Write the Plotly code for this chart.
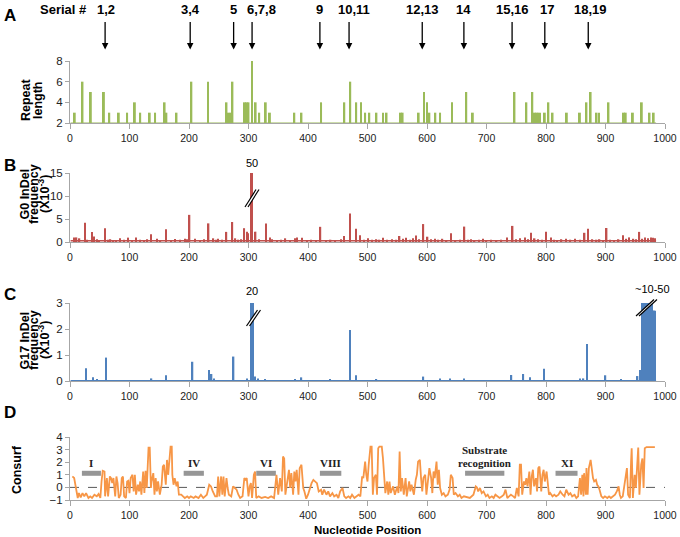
import plotly.graph_objects as go

W, H = 680, 537


def px(x):
    return x / W


def py(y):
    return 1 - y / H


# ---- A: repeat length ----
rep_pos = [8, 21, 35, 57, 66, 82, 96, 109, 118, 134, 143, 159, 162, 179, 204, 232,
           263, 266, 269, 273, 294, 297, 300, 306, 312, 318, 329, 336, 377, 389, 422,
           461, 471, 481, 489, 496, 503, 515, 526, 532, 556, 559, 586, 595, 600, 604,
           614, 622, 642, 666, 677, 747, 767, 777, 781, 784, 787, 790, 798, 804, 811,
           835, 857, 868, 875, 885, 889, 905, 931, 934, 946, 961, 974, 981]
rep_len = [3, 6, 5, 5, 3, 3, 3, 4, 3, 3, 3, 4, 3, 3, 6, 6,
           4, 3, 3, 6, 4, 4, 4, 8, 4, 3, 4, 3, 3, 3, 4,
           4, 6, 4, 4, 3, 3, 3, 3, 3, 3, 3, 3, 5, 4, 3,
           3, 3, 4, 5, 3, 5, 4, 5, 3, 3, 3, 3, 3, 4, 3,
           3, 3, 4, 5, 3, 3, 4, 3, 3, 3, 4, 3, 3]

serial_labels = ['1,2', '3,4', '5', '6,7,8', '9', '10,11', '12,13', '14', '15,16', '17', '18,19']
serial_pos = [59, 202, 275, 306, 420, 469, 592, 662, 743, 798, 871]

# ---- B: G0 InDel frequency (x10^-3) ----
g0_pos = [7, 11, 16, 25, 29, 37, 40, 45, 49, 59, 64, 68, 73, 77, 84, 91, 98, 104, 111, 118,
          124, 130, 136, 146, 152, 161, 170, 176, 185, 193, 197, 201, 210, 218, 225, 233, 241,
          245, 249, 256, 263, 273, 278, 283, 288, 293, 297, 299, 304, 306, 312, 318, 329, 336,
          340, 348, 355, 362, 370, 378, 382, 390, 398, 405, 413, 421, 430, 438, 446, 455, 461,
          471, 481, 487, 494, 501, 508, 515, 520, 526, 533, 541, 548, 554, 560, 565, 571, 576,
          582, 587, 594, 601, 607, 613, 619, 626, 633, 640, 648, 656, 663, 669, 674, 680, 687,
          694, 700, 708, 717, 725, 734, 744, 750, 756, 765, 770, 775, 781, 787, 793, 800, 808,
          813, 819, 826, 834, 841, 849, 857, 865, 871, 878, 885, 890, 896, 902, 908, 914, 922,
          929, 935, 940, 947, 951, 957, 962, 966, 971, 976, 980, 983]
g0_val = [1.0, 1.0, 0.8, 4.2, 0.5, 2.2, 1.2, 0.6, 0.4, 3.0, 0.5, 0.6, 0.4, 0.4, 0.8, 0.5, 0.95, 0.4, 1.0, 0.5,
          0.4, 0.6, 1.67, 0.7, 0.4, 2.75, 0.4, 0.65, 0.5, 0.7, 0.6, 5.9, 0.7, 0.4, 0.6, 4.05, 0.8,
          0.5, 0.7, 0.5, 2.2, 4.35, 0.8, 0.5, 0.6, 3.0, 2.25, 1.9, 15, 15, 2.25, 0.6, 4.0, 1.0,
          0.6, 0.4, 0.5, 0.8, 0.4, 0.8, 1.0, 0.95, 0.4, 0.5, 0.4, 3.3, 0.4, 0.5, 0.4, 0.6, 1.3,
          6.2, 2.9, 1.45, 0.5, 0.8, 0.5, 0.6, 0.5, 0.95, 0.5, 0.6, 0.5, 1.3, 0.7, 0.95, 0.5, 0.8,
          1.4, 0.6, 3.9, 1.15, 0.6, 0.7, 0.5, 0.7, 0.4, 1.9, 0.4, 0.5, 3.35, 0.5, 0.6, 0.4, 0.5,
          0.7, 0.4, 0.5, 0.4, 0.5, 1.0, 3.5, 0.6, 0.8, 1.0, 0.6, 2.0, 0.8, 0.6, 0.5, 2.25, 1.0,
          0.5, 0.4, 0.6, 0.7, 0.5, 0.7, 0.5, 2.0, 2.9, 0.6, 0.5, 0.6, 0.4, 3.05, 0.5, 0.4, 0.6,
          1.45, 0.7, 1.0, 0.7, 0.6, 2.2, 0.7, 1.0, 0.8, 1.0, 0.9, 0.8]
g0_floor_x = [1, 985]
g0_floor_y = [0.25, 0.25]

# ---- C: G17 InDel frequency (x10^-3) ----
g17_pos = [27, 39, 45, 61, 137, 161, 206, 234, 238, 242, 275, 297, 304, 306, 308, 311, 316,
           328, 378, 389, 437, 471, 481, 515, 594, 622, 639, 662, 742, 762, 773, 797, 857,
           863, 869, 900, 926, 954, 958,
           961, 962, 963, 964, 965, 966, 967, 968, 969, 970, 971, 972, 973, 974, 975, 976,
           977, 978, 979, 980, 981, 982, 983]
g17_val = [0.49, 0.14, 0.06, 0.9, 0.1, 0.22, 0.74, 0.42, 0.27, 0.1, 0.94, 0.1, 3, 3, 3, 0.17, 0.1,
           0.06, 0.06, 0.14, 0.06, 1.96, 0.22, 0.06, 0.17, 0.1, 0.1, 0.1, 0.23, 0.27, 0.14, 0.47, 0.1,
           0.1, 1.42, 0.22, 0.07, 0.19, 0.42,
           3, 3, 3, 3, 3, 3, 3, 3, 2.2, 3, 3, 3, 3, 1.5, 3, 3,
           3, 3, 2.7, 2.7, 2.7, 2.7, 2.7]
g17_floor_x = [1, 985]
g17_floor_y = [0.02, 0.02]

# ---- D: Consurf score ----
cs_pos = [4, 7, 10, 13, 15, 18, 21, 24, 27, 31, 34, 37, 41, 45, 48, 51, 53, 55, 58, 59,
          62, 64, 67, 69, 71, 73, 76, 78, 80, 82, 85, 87, 89, 91, 94, 96, 98, 100, 102, 105,
          107, 109, 111, 114, 116, 118, 120, 123, 125, 127, 129, 132, 134, 136, 137, 140, 142, 144, 146, 148,
          151, 154, 156, 158, 161, 163, 165, 167, 169, 171, 172, 174, 176, 179, 181, 183, 187, 190, 193, 197,
          200, 203, 208, 211, 216, 220, 224, 227, 230, 234, 237, 240, 244, 247, 249, 251, 254, 256, 258, 260,
          263, 265, 267, 271, 274, 277, 280, 283, 286, 290, 293, 295, 297, 300, 302, 304, 306, 309, 311, 313,
          317, 322, 328, 333, 338, 343, 347, 350, 353, 356, 358, 360, 362, 366, 368, 370, 372, 375, 377, 379,
          381, 384, 386, 389, 392, 394, 397, 400, 404, 406, 409, 412, 415, 418, 422, 424, 427, 431, 434, 437,
          441, 444, 448, 451, 454, 458, 461, 464, 468, 471, 474, 478, 481, 485, 488, 491, 493, 496, 498, 500,
          502, 505, 507, 509, 511, 514, 516, 518, 520, 524, 526, 528, 530, 533, 535, 537, 539, 543, 546, 550,
          552, 554, 556, 558, 561, 564, 566, 570, 572, 574, 578, 581, 583, 585, 588, 590, 592, 594, 597, 599,
          602, 604, 607, 609, 611, 613, 616, 618, 620, 622, 625, 628, 631, 635, 638, 640, 643, 645, 648, 652,
          655, 658, 662, 666, 672, 678, 682, 684, 686, 689, 692, 695, 699, 702, 705, 709, 712, 715, 719, 722,
          726, 729, 732, 735, 738, 741, 745, 748, 751, 754, 756, 758, 760, 763, 765, 767, 769, 772, 774, 776,
          778, 780, 783, 785, 787, 789, 792, 794, 796, 798, 801, 803, 805, 807, 811, 814, 817, 821, 824, 828,
          831, 834, 838, 841, 844, 848, 851, 854, 857, 859, 861, 863, 864, 867, 868, 870, 872, 875, 877, 879,
          881, 884, 886, 888, 890, 893, 896, 899, 903, 906, 909, 913, 916, 919, 922, 924, 926, 929, 932, 934,
          936, 938, 941, 943, 944, 946, 949, 951, 953, 955, 957, 960, 962, 964, 966, 969, 983]
cs_val = [0.87, 0.74, -0.05, -0.84, -0.45, -0.79, -0.45, -0.71, -0.45, -0.84, -0.71, -0.84, -0.58, -0.71, -0.53, -0.84, 0.47, 1.32, 1.26, -0.71,
          0.74, -0.71, 0.87, 0.74, 0.34, 0.74, -0.71, 0.87, 0.34, -0.84, -0.58, 0.74, 0.87, -0.71, -0.84, 0.47, 0.53, -0.45, 0.74, 1.0,
          -0.32, 1.0, -0.58, 0.21, -0.32, 0.47, -0.58, 1.26, -0.45, 1.32, -0.05, 3.16, 3.16, -0.05, 0.47, 1.13, -0.58, 0.74, -0.32, 0.47,
          -0.58, 0.21, 1.66, 1.79, 0.21, 2.18, 1.0, 2.18, 3.24, 3.24, 1.0, 0.21, 0.74, 0.08, 0.47, -0.58, -0.58, -0.71, -0.84, -0.71,
          -0.84, -0.71, -0.84, -0.71, -0.84, -0.58, -0.84, -0.71, -0.58, 0.21, 0.08, -0.32, -0.71, -0.71, 0.87, -0.71, 0.87, -0.58, 0.87, -0.71,
          0.74, -0.05, -0.58, -0.71, 0.08, -0.05, -0.18, -0.58, -0.84, -0.71, 0.74, 0.61, 0.74, -0.71, 0.08, 0.34, -0.84, 1.0, 1.26, -0.84,
          -0.71, -0.84, -0.75, -0.84, -0.71, -0.84, 1.0, -0.58, 0.74, -0.32, 2.45, 2.3, -0.58, 0.74, 1.4, -0.05, 1.13, -0.58, 1.26, 0.47,
          1.4, -0.58, 1.53, 1.8, -0.05, -0.32, -0.9, -0.58, 0.08, 0.34, 0.6, 0.47, 0.34, -0.32, -0.18, -0.58, -0.18, -0.58, -0.32, -0.71,
          -0.45, -0.71, -0.58, -0.84, -0.32, -0.05, -0.71, -0.84, -0.71, -0.84, -0.58, -0.84, -0.71, -0.58, -0.71, 0.87, 0.74, 2.05, 1.0, 0.47,
          1.8, 3.24, 3.24, -0.58, 0.74, 1.0, -0.58, 3.1, 3.24, 3.24, 2.3, 0.74, -0.45, 0.47, -0.58, 0.47, -0.45, 0.08, -0.58, 0.08,
          -0.45, 2.84, -0.32, 0.74, -0.58, 0.74, -0.71, 0.47, -0.32, 0.21, -0.58, 0.6, 1.0, 2.05, 2.18, 0.74, -0.32, 0.74, 1.0, -0.58,
          0.47, 1.53, 0.74, -0.45, 1.26, 0.74, 2.05, 0.21, 1.4, -0.05, -0.58, -0.45, -0.71, -0.58, -0.18, 1.0, 0.74, -0.58, -0.45, -0.71,
          -0.58, -0.84, -0.71, -0.75, -0.84, -0.58, 0.08, 0.0, -0.32, -0.05, -0.45, -0.32, -0.71, -0.58, -0.84, -0.71, -0.84, -0.58, -0.71, -0.84,
          -0.71, -0.58, -0.18, -0.84, -0.71, -0.58, -0.71, -0.84, -0.05, -0.71, 1.8, 1.8, -0.58, 0.47, 0.21, 0.74, 0.08, 1.26, -0.58, 0.87,
          1.4, 0.08, 0.74, -0.32, 1.53, 1.66, -0.32, 1.0, 1.4, 0.47, 1.26, -0.05, -0.58, -0.45, -0.71, -0.58, -0.71, -0.58, -0.32, -0.58,
          -0.71, -0.18, -0.58, -0.45, -0.71, -0.58, -0.84, -0.71, 0.74, -0.58, 1.0, -0.71, 1.13, -0.58, 1.53, -0.58, 1.53, 2.18, 1.26, 0.74,
          0.47, 0.6, 0.21, 0.08, -0.18, -0.71, -0.84, -0.71, -0.84, -0.71, -0.84, -0.71, -0.58, -0.32, 0.08, -0.58, -0.84, -0.71, 0.34, 1.0,
          1.53, -0.58, -0.84, 2.05, 3.1, -0.84, 1.0, -0.05, 2.05, 3.16, -0.58, 1.8, 2.3, -0.05, 3.1, 3.2, 3.2]

motif_labels = ['I', 'IV', 'VI', 'VIII', 'XI']
motif_start = [20, 191, 313, 420, 816]
motif_end = [52, 225, 346, 456, 853]
substrate_start, substrate_end = 664, 730

GREEN = '#9BBB59'
RED = '#C0504D'
BLUE = '#4F81BD'
ORANGE = '#F79646'
GREY_BAR = '#969696'
AXIS = '#A6A6A6'
FONT = 'Liberation Sans, Arial, sans-serif'
SERIF = 'Liberation Serif, Times New Roman, serif'

fig = go.Figure()

# A
fig.add_trace(go.Scatter(x=[1, 985], y=[2, 2], mode='lines', line=dict(color=GREEN, width=1.2),
                         xaxis='x', yaxis='y', hoverinfo='skip'))
fig.add_trace(go.Bar(x=rep_pos, y=rep_len, width=3.2, marker_color=GREEN, marker_line_width=0,
                     xaxis='x', yaxis='y'))
# B
fig.add_trace(go.Scatter(x=g0_floor_x, y=g0_floor_y, mode='lines', line=dict(color=RED, width=1.5),
                         xaxis='x2', yaxis='y2', hoverinfo='skip'))
fig.add_trace(go.Bar(x=g0_pos, y=g0_val, width=2.4, marker_color=RED, marker_line_width=0,
                     xaxis='x2', yaxis='y2'))
# C
fig.add_trace(go.Scatter(x=g17_floor_x, y=g17_floor_y, mode='lines', line=dict(color=BLUE, width=1.2),
                         xaxis='x3', yaxis='y3', hoverinfo='skip'))
fig.add_trace(go.Bar(x=g17_pos, y=g17_val, width=2.4, marker_color=BLUE, marker_line_width=0,
                     xaxis='x3', yaxis='y3'))
# D
for s, e in zip(motif_start + [substrate_start], motif_end + [substrate_end]):
    fig.add_trace(go.Scatter(x=[s, e], y=[1.12, 1.12], mode='lines',
                             line=dict(color=GREY_BAR, width=5), xaxis='x4', yaxis='y4',
                             hoverinfo='skip'))
fig.add_trace(go.Scatter(x=cs_pos, y=cs_val, mode='lines', line=dict(color=ORANGE, width=1.8),
                         xaxis='x4', yaxis='y4'))

tick_font = dict(family=FONT, size=10.5, color='#222222')
xcommon = dict(range=[0, 1000], domain=[px(70), px(665)], tickvals=list(range(0, 1001, 100)),
               showline=True, linecolor=AXIS, linewidth=1, ticks='outside', ticklen=5,
               tickcolor=AXIS, showgrid=False, zeroline=False, tickfont=tick_font,
               automargin=False, fixedrange=True)
ycommon = dict(showline=True, linecolor=AXIS, linewidth=1, ticks='outside', ticklen=4,
               tickcolor=AXIS, showgrid=False, zeroline=False, automargin=False,
               tickfont=dict(family=FONT, size=11.5, color='#222222'))

fig.update_layout(
    template='none',
    width=W, height=H, margin=dict(l=0, r=0, t=0, b=0, pad=0),
    paper_bgcolor='white', plot_bgcolor='white', showlegend=False, barmode='overlay',
    xaxis=dict(**xcommon, anchor='y'),
    yaxis=dict(**ycommon, domain=[py(123), py(61)], range=[2, 8], tickvals=[2, 4, 6, 8], anchor='x'),
    xaxis2=dict(**xcommon, anchor='y2'),
    yaxis2=dict(**ycommon, domain=[py(242), py(173)], range=[0, 15], tickvals=[0, 5, 10, 15], anchor='x2'),
    xaxis3=dict(**xcommon, anchor='y3'),
    yaxis3=dict(**ycommon, domain=[py(381), py(303)], range=[0, 3], tickvals=[0, 1, 2, 3], anchor='x3'),
    xaxis4=dict(**xcommon, anchor='y4'),
    yaxis4=dict(**ycommon, domain=[py(500), py(437)], range=[-1, 4], tickvals=[-1, 0, 1, 2, 3, 4], anchor='x4'),
)

shapes = [dict(type='line', xref='x4', yref='y4', x0=0, x1=1000, y0=0, y1=0,
               line=dict(color='#595959', width=1, dash='dash'), layer='below')]


def brk(x0, y0, x1, y1, dx=3):
    """axis break mark: white gap between two parallel slashes (pixel coords)"""
    path = 'M {} {} L {} {} L {} {} L {} {} Z'.format(px(x0), py(y0), px(x1), py(y1),
                                                    px(x1 + dx), py(y1), px(x0 + dx), py(y0))
    out = [dict(type='path', xref='paper', yref='paper', path=path,
                fillcolor='white', line=dict(width=0))]
    for o in (0, dx):
        out.append(dict(type='line', xref='paper', yref='paper', x0=px(x0 + o), y0=py(y0),
                        x1=px(x1 + o), y1=py(y1), line=dict(color='black', width=1.2)))
    return out


shapes += brk(245, 207, 256, 189.5)
shapes += brk(246.5, 326, 257.5, 310)
shapes += brk(636, 316, 654, 299.5)
fig.update_layout(shapes=shapes)

ann = []
C = dict(xanchor='center', yanchor='middle', showarrow=False)
bold = dict(family=FONT, size=13, color='black')
ann.append(dict(text='<b>Serial #</b>', x=px(63), y=py(10), xref='paper', yref='paper', font=bold, **C))
label_shift = [1, 0, 0, 9, 0, 5, 0, 0, 0, 2, 2]
for lab, pos, sh in zip(serial_labels, serial_pos, label_shift):
    ann.append(dict(text='<b>%s</b>' % lab, x=pos, xref='x', y=py(10), yref='paper',
                    font=bold, xshift=sh, **C))
    ann.append(dict(text='', x=pos, xref='x', y=py(49.5), yref='paper', showarrow=True,
                    ax=0, ay=-29, arrowhead=2, arrowsize=1, arrowwidth=1.3, arrowcolor='black'))

letter = dict(family=FONT, size=17, color='black')
for l, yy in zip('ABCD', [16, 165, 294, 412]):
    ann.append(dict(text='<b>%s</b>' % l, x=px(10), y=py(yy), xref='paper', yref='paper',
                    font=letter, **C))

ytitle = dict(family=FONT, size=12.5, color='black')
for txt, xx, yy in [('Repeat', 26, 100), ('length', 38, 100),
                    ('G0 InDel', 24.5, 194), ('frequency', 34, 194), ('(X10<sup>-3</sup>)', 44, 194),
                    ('G17 InDel', 24.5, 340), ('frequency', 34, 340), ('(X10<sup>-3</sup>)', 44, 340),
                    ('Consurf', 17, 470)]:
    ann.append(dict(text='<b>%s</b>' % txt, x=px(xx), y=py(yy), xref='paper', yref='paper',
                    textangle=-90, font=ytitle, **C))

small = dict(family=FONT, size=11, color='black')
ann.append(dict(text='50', x=px(252), y=py(163), xref='paper', yref='paper', font=small, **C))
ann.append(dict(text='20', x=px(252), y=py(291), xref='paper', yref='paper', font=small, **C))
ann.append(dict(text='~10-50', x=px(652), y=py(289), xref='paper', yref='paper', font=small, **C))

motif_font = dict(family=SERIF, size=11, color='#222222')
for lab, s, e in zip(motif_labels, motif_start, motif_end):
    ann.append(dict(text='<b>%s</b>' % lab, x=(s + e) / 2, y=1.95, xref='x4', yref='y4',
                    font=motif_font, **C))
ann.append(dict(text='<b>Substrate</b>', x=(substrate_start + substrate_end) / 2, y=2.97,
                xref='x4', yref='y4', font=motif_font, **C))
ann.append(dict(text='<b>recognition</b>', x=(substrate_start + substrate_end) / 2, y=1.96,
                xref='x4', yref='y4', font=motif_font, **C))

ann.append(dict(text='<b>Nucleotide Position</b>', x=px(367), y=py(530), xref='paper', yref='paper',
                font=dict(family=FONT, size=11.5, color='black'), **C))

fig.update_layout(annotations=ann)

fig.write_html("out.html", config={'displayModeBar': False},
               post_script="document.body.style.margin='0';")
